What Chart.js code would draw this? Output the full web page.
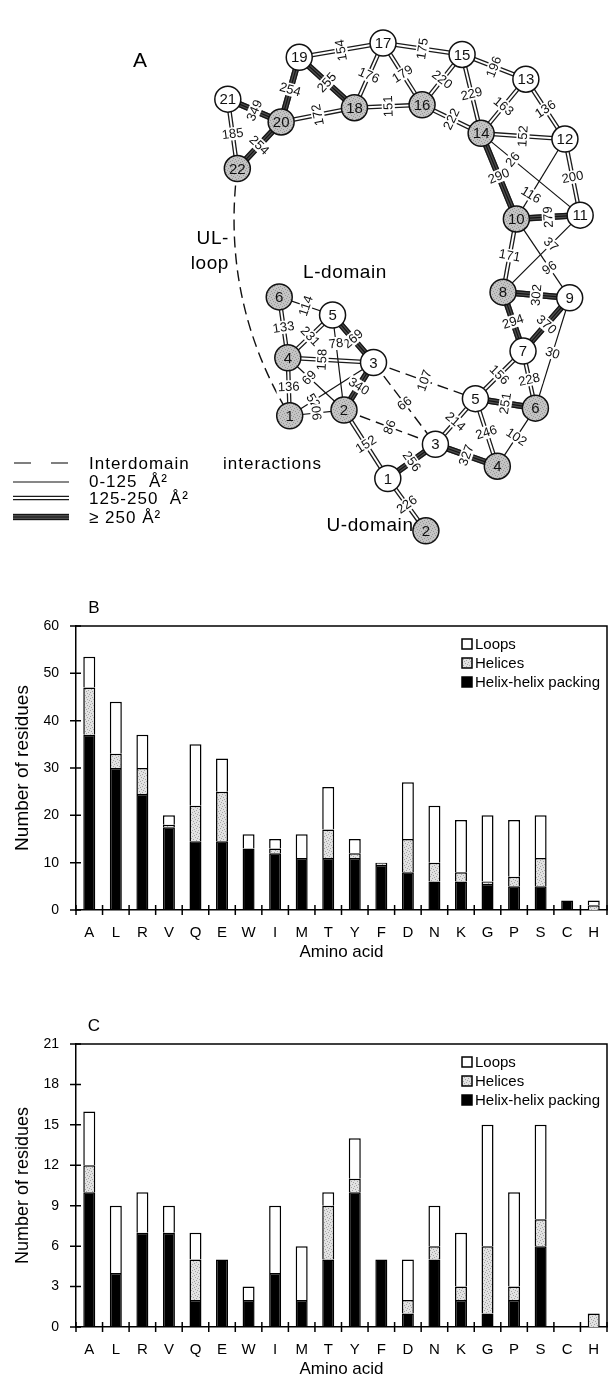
<!DOCTYPE html>
<html><head><meta charset="utf-8">
<script src="https://cdn.jsdelivr.net/npm/chart.js@4.4.1/dist/chart.umd.min.js"></script>
<style>
html,body{margin:0;padding:0;background:#fff;}
body{width:608px;height:1376px;position:relative;overflow:hidden;}
canvas{position:absolute;left:0;}
#cA{top:0;} #cB{top:590px;} #cC{top:1000px;}
</style></head><body>
<canvas id="cA" width="608" height="590"></canvas>
<canvas id="cB" width="608" height="385"></canvas>
<canvas id="cC" width="608" height="376"></canvas>
<script>
// ---------- Panel A: interaction network (layout coordinates) ----------
const nodeNames  = ['L1','L2','L3','L4','L5','L6','L7','L8','L9','L10','L11','L12','L13','L14','L15','L16','L17','L18','L19','L20','L21','L22','U1','U2','U3','U4','U5','U6'];
const nodeLabels = ['1','2','3','4','5','6','7','8','9','10','11','12','13','14','15','16','17','18','19','20','21','22','1','2','3','4','5','6'];
const nodeX      = [289,346,377,287,334,278,534,513,583,527,594,578,537,490,470,428,387,357,299,280,224,234,392,432,442,507,484,547];
const nodeY      = [422,416,366,361,316,297,354,292,298,215,211,131,68,125,42,95,30,98,45,113,89,162,488,543,452,475,404,414];
const nodeShaded = [1,1,0,1,0,1,0,1,0,1,0,0,0,1,0,1,0,1,0,1,0,1,0,1,0,1,0,1];

const edgeFrom = ['L21','L21','L20','L19','L19','L19','L20','L17','L17','L17','L18','L16','L16','L15','L15','L13','L13','L14','L14','L14','L12','L12','L10','L10','L10','L11','L8','L8','L9','L9','L7','L7','U5','U5','U5','U6','U3','U3','U1','U1','L2','L3','L3','L22','L6','L6','L5','L5','L5','L4','L4','L3','L3','L4','L1'];
const edgeTo   = ['L20','L22','L22','L20','L17','L18','L18','L18','L16','L15','L16','L15','L14','L14','L13','L14','L12','L12','L10','L11','L11','L10','L11','L8','L9','L8','L9','L7','L7','U6','U5','U6','U6','U4','U3','U4','U4','U1','U2','L2','U3','U3','U5','L1','L5','L4','L4','L3','L2','L3','L2','L2','L1','L1','L2'];
const edgeArea = [349,185,254,254,154,255,172,176,179,175,151,220,222,229,196,163,136,152,290,26,200,116,279,171,96,37,302,294,370,30,156,228,251,246,214,102,327,256,226,152,86,66,107,null,114,133,231,269,78,158,69,340,52,136,90];
const edgeInterdomain = ['L2-U3','L3-U3','L3-U5','L22-L1'];

// ---------- Panels B and C: residue counts ----------
const aminoAcids = ['A','L','R','V','Q','E','W','I','M','T','Y','F','D','N','K','G','P','S','C','H'];
const bPacking = [37, 30, 24.5, 17.5, 14.5, 14.5, 13, 12, 11, 11, 11, 9.5, 8, 6, 6, 5.5, 5, 5, 2, 0];
const bHelices = [10, 3, 5.5, 0.5, 7.5, 10.5, 0, 1, 0, 6, 1, 0.5, 7, 4, 2, 0.5, 2, 6, 0, 1];
const bLoops   = [6.5, 11, 7, 2, 13, 7, 3, 2, 5, 9, 3, 0, 12, 12, 11, 14, 12, 9, 0, 1];
const bYTicks  = [0, 10, 20, 30, 40, 50, 60];
const cPacking = [10, 4, 7, 7, 2, 5, 2, 4, 2, 5, 10, 5, 1, 5, 2, 1, 2, 6, 0, 0];
const cHelices = [2, 0, 0, 0, 3, 0, 0, 0, 0, 4, 1, 0, 1, 1, 1, 5, 1, 2, 0, 1];
const cLoops   = [4, 5, 3, 2, 2, 0, 1, 5, 4, 1, 3, 0, 3, 3, 4, 9, 7, 7, 0, 0];
const cYTicks  = [0, 3, 6, 9, 12, 15, 18, 21];
const seriesNames = ['Helix-helix packing', 'Helices', 'Loops'];

// ---------- styling ----------
const FONT = '"Liberation Sans", Arial, Helvetica, sans-serif';
const labelT = {'L12-L10':0.7,'L14-L11':0.32,'L11-L8':0.38,'L10-L9':0.62,'L5-L2':0.3,'L4-L2':0.38,'L3-L1':0.72,'L4-L3':0.4};
const edgeBend = {'L22-L1':44};

function stipple(base, dot) {
  const c = document.createElement('canvas'); c.width = 6; c.height = 6;
  const g = c.getContext('2d'); g.fillStyle = base; g.fillRect(0,0,6,6);
  g.fillStyle = dot;
  [[0,0],[3,1],[1,3],[4,4],[5,2],[2,5]].forEach(([x,y]) => g.fillRect(x,y,1,1));
  return g.createPattern(c, 'repeat');
}
const nodeGray = stipple('#c4c4c4', '#969696');
const barGray = stipple('#e2e2e2', '#a4a4a4');

function line(ctx,x1,y1,x2,y2,w,col){ctx.lineWidth=w;ctx.strokeStyle=col;ctx.beginPath();ctx.moveTo(x1,y1);ctx.lineTo(x2,y2);ctx.stroke();}
function styledEdge(ctx,x1,y1,x2,y2,area){
  const dx=x2-x1, dy=y2-y1, L=Math.hypot(dx,dy), nx=-dy/L, ny=dx/L;
  if (area < 125) { line(ctx,x1,y1,x2,y2,1.2,'#111'); }
  else if (area < 250) { [-1.6,1.6].forEach(o=>line(ctx,x1+nx*o,y1+ny*o,x2+nx*o,y2+ny*o,1.3,'#1a1a1a')); }
  else { line(ctx,x1,y1,x2,y2,6.4,'#4e4e4e'); [-2.5,0,2.5].forEach(o=>line(ctx,x1+nx*o,y1+ny*o,x2+nx*o,y2+ny*o,1.2,'#141414')); }
}

const networkPlugin = {
  id: 'network',
  beforeDatasetsDraw(chart) {
    const ctx = chart.ctx, xs = chart.scales.x, ys = chart.scales.y;
    const P = id => { const i = nodeNames.indexOf(id); return [xs.getPixelForValue(nodeX[i]), ys.getPixelForValue(nodeY[i])]; };
    ctx.save(); ctx.lineCap = 'butt';
    edgeFrom.forEach((f,k) => {
      const key = f + '-' + edgeTo[k];
      const [x1,y1] = P(f), [x2,y2] = P(edgeTo[k]);
      if (edgeInterdomain.includes(key)) {
        ctx.setLineDash([11,6]); ctx.lineWidth = 1.4; ctx.strokeStyle = '#111';
        ctx.beginPath(); ctx.moveTo(x1,y1);
        const b = edgeBend[key] || 0;
        if (b) { const dx=x2-x1, dy=y2-y1, L=Math.hypot(dx,dy); ctx.quadraticCurveTo((x1+x2)/2 - dy/L*b, (y1+y2)/2 + dx/L*b, x2, y2); }
        else ctx.lineTo(x2,y2);
        ctx.stroke(); ctx.setLineDash([]);
      } else styledEdge(ctx,x1,y1,x2,y2,edgeArea[k]);
    });
    ctx.font = '13px ' + FONT; ctx.textAlign = 'center'; ctx.textBaseline = 'middle';
    edgeFrom.forEach((f,k) => {
      if (edgeArea[k] === null) return;
      const key = f + '-' + edgeTo[k];
      const [x1,y1] = P(f), [x2,y2] = P(edgeTo[k]);
      const t = labelT[key] ?? 0.5;
      let a = Math.atan2(y2-y1, x2-x1) * 180 / Math.PI + 90;
      while (a >= 70) a -= 180; while (a < -110) a += 180;
      const txt = String(edgeArea[k]); const w = ctx.measureText(txt).width;
      ctx.save(); ctx.translate(x1+(x2-x1)*t, y1+(y2-y1)*t); ctx.rotate(a*Math.PI/180);
      ctx.fillStyle = '#fff'; ctx.fillRect(-w/2-1.5, -6.5, w+3, 13);
      ctx.fillStyle = '#111'; ctx.fillText(txt, 0, 0.5);
      ctx.restore();
    });
    ctx.restore();
  },
  afterDatasetsDraw(chart) {
    const ctx = chart.ctx, xs = chart.scales.x, ys = chart.scales.y;
    ctx.save(); ctx.font = '15px ' + FONT; ctx.fillStyle = '#111'; ctx.textAlign = 'center'; ctx.textBaseline = 'middle';
    nodeNames.forEach((n,i) => ctx.fillText(nodeLabels[i], xs.getPixelForValue(nodeX[i]), ys.getPixelForValue(nodeY[i]) + 1));
    // panel texts
    ctx.fillStyle = '#000';
    ctx.font = '21px ' + FONT; ctx.fillText('A', 140, 61);
    ctx.font = '19px ' + FONT; ctx.letterSpacing = '0.6px';
    ctx.fillText('L-domain', 345, 273);
    ctx.fillText('U-domain', 370, 526);
    ctx.textAlign = 'right'; ctx.fillText('UL-', 229, 239); ctx.fillText('loop', 229, 264);
    // legend
    ctx.textAlign = 'left'; ctx.font = '17px ' + FONT; ctx.letterSpacing = '1px';
    ctx.fillText('Interdomain', 89, 464); ctx.fillText('interactions', 223, 464);
    ctx.fillText('0-125  Å²', 89, 482);
    ctx.fillText('125-250  Å²', 89, 499);
    ctx.fillText('≥ 250 Å²', 89, 518);
    ctx.letterSpacing = '0px';
    ctx.setLineDash([17,20]); line(ctx, 14, 463, 69, 463, 1.4, '#555'); ctx.setLineDash([]);
    styledEdge(ctx, 13, 482, 69, 482, 50);
    styledEdge(ctx, 13, 498, 69, 498, 200);
    styledEdge(ctx, 13, 517, 69, 517, 300);
    ctx.restore();
  }
};

new Chart(document.getElementById('cA'), {
  type: 'scatter',
  data: { datasets: [{
    label: 'Helices',
    data: nodeX.map((x,i) => ({x, y: nodeY[i]})),
    pointRadius: 13, pointHoverRadius: 13,
    pointBackgroundColor: nodeShaded.map(s => s ? nodeGray : '#fff'),
    pointBorderColor: '#111', pointBorderWidth: 1.5, clip: false
  }]},
  options: {
    responsive: false, animation: false, events: [],
    layout: { padding: 0 },
    scales: { x: { type: 'linear', min: 0, max: 608, display: false },
              y: { type: 'linear', min: 0, max: 590, reverse: true, display: false } },
    plugins: { legend: { display: false }, tooltip: { enabled: false } }
  },
  plugins: [networkPlugin]
});

// ---------- bar panels ----------
const framePlugin = {
  id: 'frame',
  afterDraw(chart, args, o) {
    const { ctx, chartArea: a, scales: { x, y } } = chart;
    ctx.save(); ctx.strokeStyle = '#000'; ctx.lineWidth = 1.5;
    ctx.beginPath(); ctx.moveTo(a.left, a.top); ctx.lineTo(a.right, a.top); ctx.lineTo(a.right, a.bottom); ctx.stroke();
    ctx.beginPath();
    y.ticks.forEach(t => { const py = y.getPixelForValue(t.value); ctx.moveTo(a.left - 6, py); ctx.lineTo(a.left + 5, py); });
    for (let i = 0; i <= chart.data.labels.length; i++) { const px = x.getPixelForValue(i - 0.5); ctx.moveTo(px, a.bottom - 5); ctx.lineTo(px, a.bottom + 5); }
    ctx.stroke();
    ctx.fillStyle = '#000'; ctx.textBaseline = 'middle'; ctx.textAlign = 'center';
    ctx.font = '17px ' + FONT; ctx.fillText(o.letter, 94, a.top - 18);
    ctx.font = '17px ' + FONT; ctx.fillText('Amino acid', (a.left + a.right) / 2, a.bottom + o.xTitleGap);
    ctx.save(); ctx.translate(23, (a.top + a.bottom) / 2); ctx.rotate(-Math.PI / 2);
    ctx.font = o.yTitleSize + 'px ' + FONT; ctx.fillText('Number of residues', 0, 0); ctx.restore();
    // legend (top series first)
    ctx.textAlign = 'left'; ctx.font = '15px ' + FONT;
    const ds = chart.data.datasets.slice().reverse();
    ds.forEach((d, i) => {
      const cy = a.top + 18 + i * 19;
      ctx.fillStyle = d.backgroundColor; ctx.fillRect(462, cy - 5, 10, 10);
      ctx.lineWidth = 1.5; ctx.strokeRect(462, cy - 5, 10, 10);
      ctx.fillStyle = '#000'; ctx.fillText(d.label, 475, cy + 0.5);
    });
    ctx.restore();
  }
};

function barChart(id, packing, helices, loops, yTicks, top, xh, xTitleGap, letter, yTitleSize) {
  const step = yTicks[1] - yTicks[0];
  return new Chart(document.getElementById(id), {
    type: 'bar',
    data: { labels: aminoAcids, datasets: [
      { label: seriesNames[0], data: packing, backgroundColor: '#000', borderColor: '#000' },
      { label: seriesNames[1], data: helices, backgroundColor: barGray, borderColor: '#000' },
      { label: seriesNames[2], data: loops, backgroundColor: '#fff', borderColor: '#000' }
    ]},
    options: {
      responsive: false, animation: false, events: [],
      layout: { padding: { top: top, right: 1, left: 0, bottom: 0 } },
      datasets: { bar: { barThickness: 12, borderWidth: 1.5, borderSkipped: 'bottom', inflateAmount: 0 } },
      scales: {
        x: { stacked: true, grid: { display: false, drawTicks: false },
             border: { display: true, color: '#000', width: 1.5 },
             ticks: { color: '#000', font: { family: FONT, size: 15 }, padding: 14, autoSkip: false, maxRotation: 0 },
             afterFit(s) { s.height = xh; s.paddingLeft = 0; s.paddingRight = 0; } },
        y: { stacked: true, min: yTicks[0], max: yTicks[yTicks.length - 1],
             grid: { display: false, drawTicks: false },
             border: { display: true, color: '#000', width: 1.5 },
             ticks: { stepSize: step, color: '#000', font: { family: FONT, size: 14 }, padding: 17 },
             afterFit(s) { s.width = 76; s.paddingTop = 0; s.paddingBottom = 0; } }
      },
      plugins: { legend: { display: false }, tooltip: { enabled: false }, frame: { letter, xTitleGap, yTitleSize } }
    },
    plugins: [framePlugin]
  });
}
// B: plot 626..910 on page; C: plot 1044..1327 on page
barChart('cB', bPacking, bHelices, bLoops, bYTicks, 36, 385 - 320, 42, 'B', 19);
barChart('cC', cPacking, cHelices, cLoops, cYTicks, 44, 376 - 327, 42, 'C', 18);
</script></body></html>
